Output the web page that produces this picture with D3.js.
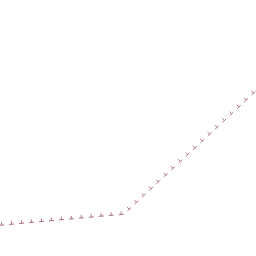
<!DOCTYPE html>
<html>
<head>
<meta charset="utf-8">
<script src="https://cdn.jsdelivr.net/npm/d3@7"></script>
<style>
html,body{margin:0;padding:0;background:#fff;}
svg{display:block;}
</style>
</head>
<body>
<script>
// Data (arbitrary units, 0-100 on both axes)
const xValues = [0, 10, 20, 30, 40, 48.4, 60, 70, 80, 90, 100, 105];
const yValues = [12.0, 12.9, 13.8, 14.7, 15.6, 16.3, 27.2, 36.5, 45.8, 55.1, 64.5, 69.1];

const W = 256, H = 256;
const x = d3.scaleLinear().domain([0, 100]).range([0, 256]);
const y = d3.scaleLinear().domain([0, 100]).range([256, 0]);

const data = xValues.map((v, i) => ({x: v, y: yValues[i]}));
const color = "#ac7090";

const svg = d3.select("body").append("svg").attr("width", W).attr("height", H);

const line = d3.line().x(d => x(d.x)).y(d => y(d.y));

const guide = svg.append("path")
  .datum(data)
  .attr("d", line)
  .attr("fill", "none")
  .attr("stroke", "none");

const node = guide.node();
const total = node.getTotalLength();
const spacing = 10, phase = 1.7;
const marks = [];
for (let L = phase; L < total; L += spacing) {
  const p = node.getPointAtLength(L);
  const q = node.getPointAtLength(Math.min(total, L + 0.5));
  const r = node.getPointAtLength(Math.max(0, L - 0.5));
  let tx = q.x - r.x, ty = q.y - r.y;
  const n = Math.hypot(tx, ty) || 1;
  tx /= n; ty /= n;
  marks.push({p, tx, ty});
}

const g = svg.append("g").attr("stroke", color).attr("stroke-width", 1).attr("fill", "none");
g.selectAll("path.mark").data(marks).join("path")
  .attr("class", "mark")
  .attr("d", m => {
    const a = 2.5, h = 3;
    const nx = m.ty, ny = -m.tx;
    return `M${m.p.x - m.tx*a},${m.p.y - m.ty*a}L${m.p.x + m.tx*a},${m.p.y + m.ty*a}` +
           `M${m.p.x},${m.p.y}L${m.p.x + nx*h},${m.p.y + ny*h}`;
  });
</script>
</body>
</html>
